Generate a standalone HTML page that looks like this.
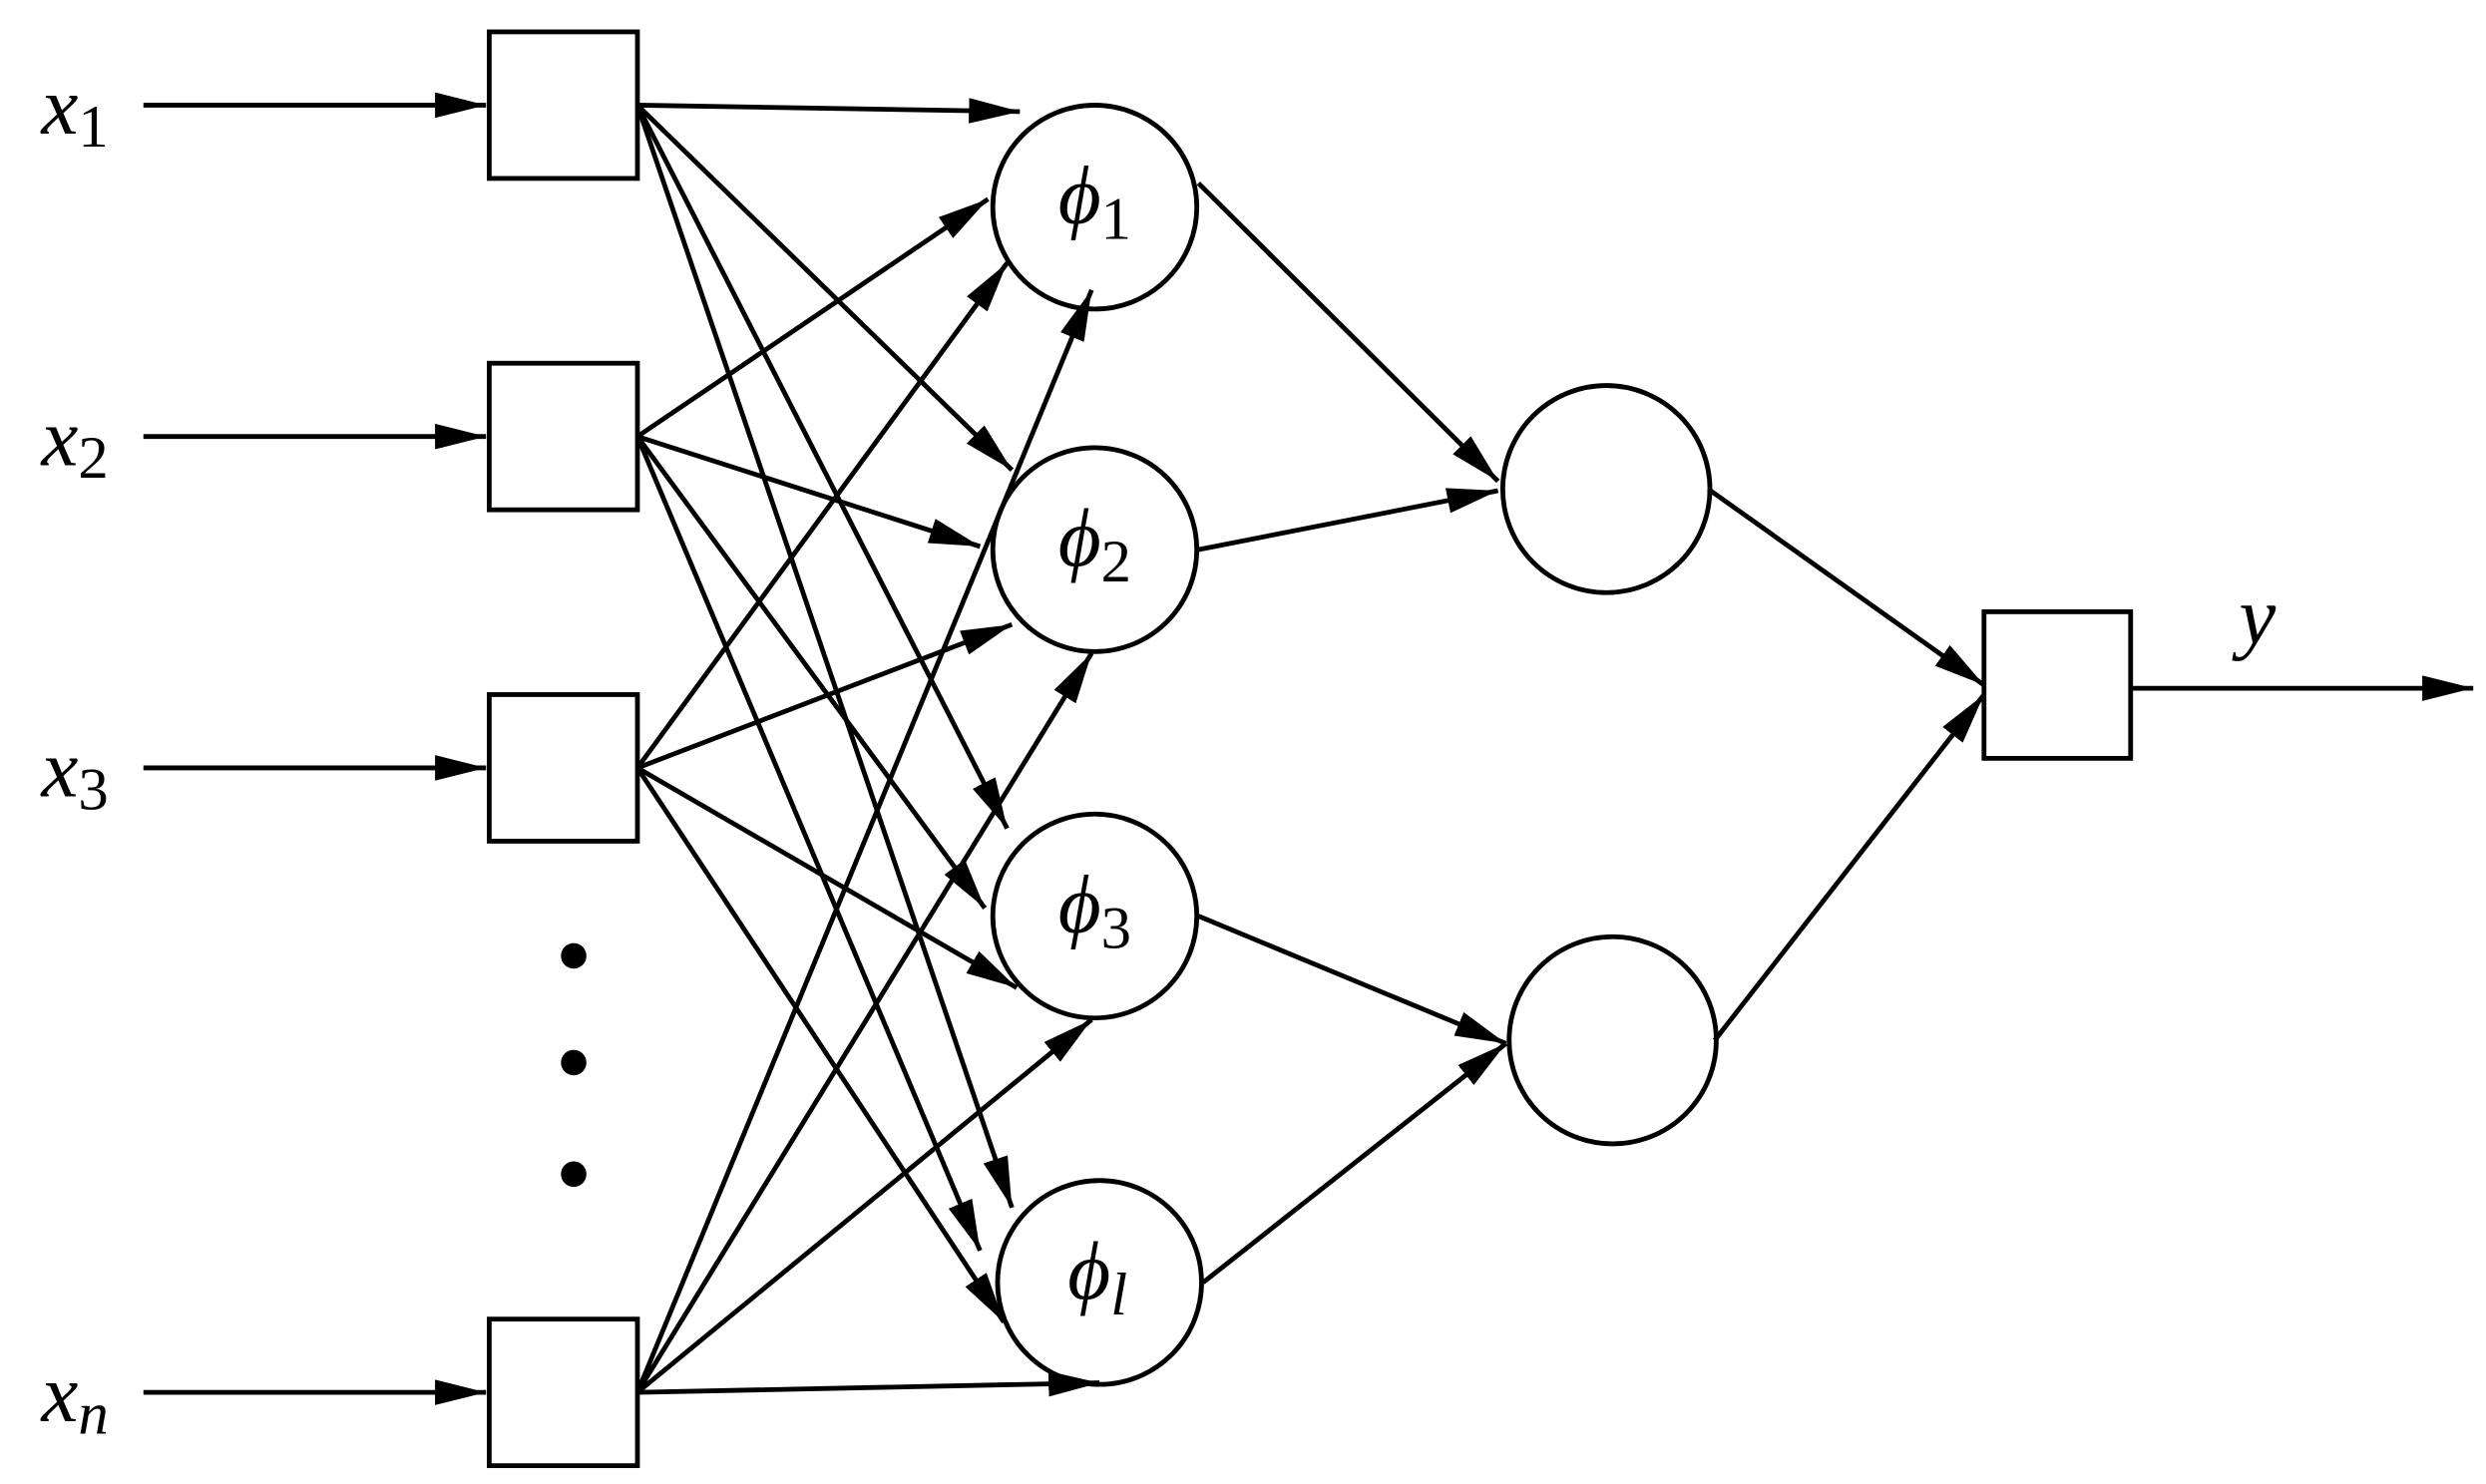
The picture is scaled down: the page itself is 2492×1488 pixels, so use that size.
<!DOCTYPE html>
<html><head><meta charset="utf-8"><style>
html,body{margin:0;padding:0;background:#fff}
svg{display:block}
text{font-family:"Liberation Serif",serif;font-style:italic;fill:#000}
tspan.s{font-style:normal}
</style></head><body>
<svg id="s" width="2492" height="1488" viewBox="0 0 1560 931.5" preserveAspectRatio="none" xmlns="http://www.w3.org/2000/svg">
<defs>
<marker id="b" viewBox="0 0 10 10" refX="10" refY="5" markerWidth="32" markerHeight="16" markerUnits="userSpaceOnUse" orient="auto" preserveAspectRatio="none"><path d="M0,0 L10,5 L0,10 z" fill="#000"/></marker></defs>
<g id="g" stroke="#000" stroke-width="3" fill="none"></g>
<g font-size="52">
<text x="26" y="84">x<tspan class="s" font-size="38" dy="8">1</tspan></text>
<text x="26" y="292">x<tspan class="s" font-size="38" dy="8">2</tspan></text>
<text x="26" y="500">x<tspan class="s" font-size="38" dy="8">3</tspan></text>
<text x="26" y="892">x<tspan font-size="38" dy="8">n</tspan></text>
<text x="664" y="140">ϕ<tspan class="s" font-size="38" dy="10">1</tspan></text>
<text x="664" y="355">ϕ<tspan class="s" font-size="38" dy="10">2</tspan></text>
<text x="664" y="585">ϕ<tspan class="s" font-size="38" dy="10">3</tspan></text>
<text x="670" y="815">ϕ<tspan font-size="38" dy="10">l</tspan></text>
<text x="1405" y="404">y</text>
</g>
<circle cx="360" cy="600" r="8"/><circle cx="360" cy="667" r="8"/><circle cx="360" cy="737" r="8"/>
</svg>
<script>
var g=document.getElementById('g'),NS='http://www.w3.org/2000/svg';
function el(t,a){var e=document.createElementNS(NS,t);for(var k in a)e.setAttribute(k,a[k]);g.appendChild(e);return e;}
function line(x1,y1,x2,y2){el('line',{x1:x1,y1:y1,x2:x2,y2:y2,'marker-end':'url(#b)'});}
var boxes=[66,274,482,874];
var ends=[
 [[640,70],[635,295],[632,520],[635,758]],
 [[620,125],[615,343],[618,570],[615,785]],
 [[632,165],[635,392],[638,620],[630,830]],
 [[685,182],[685,410],[685,640],[690,868]]];
var phi=[[687,130],[687,345],[687,575],[690,805]],R=64;
boxes.forEach(function(y,i){el('rect',{x:307,y:y-46,width:93,height:92});line(90,y,305,y);
 ends[i].forEach(function(p){line(400,y,p[0],p[1]);});});
phi.forEach(function(c){el('circle',{cx:c[0],cy:c[1],r:R});});
el('circle',{cx:1008,cy:307,r:65});el('circle',{cx:1012,cy:653,r:65});
line(752,115,940,302);line(752,345,940,308);line(752,575,945,655);line(755,805,945,655);
line(1072,307,1245,430);line(1076,653,1245,436);
el('rect',{x:1245,y:384,width:92,height:92});
line(1337,432,1552,432);
</script>
</body></html>
